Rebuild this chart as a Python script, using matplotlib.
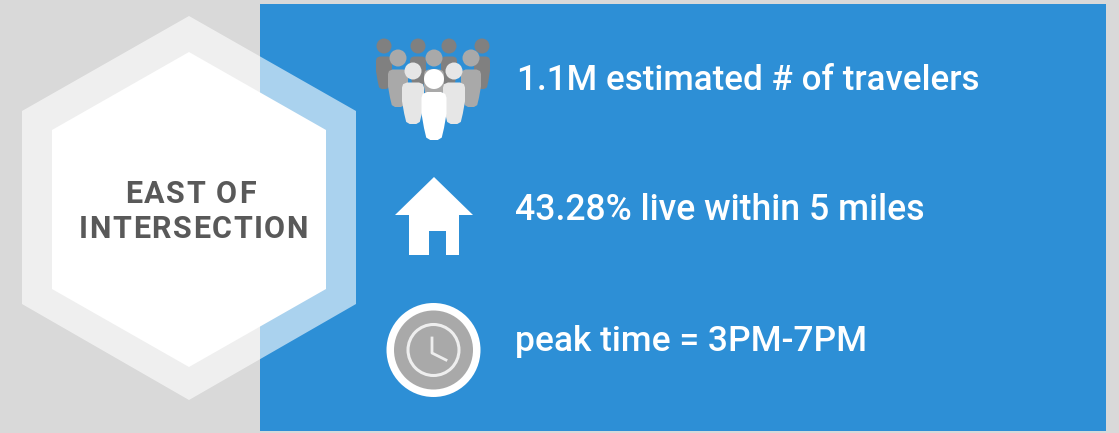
from __future__ import annotations

import matplotlib

matplotlib.use("Agg")
import matplotlib.pyplot as plt
from matplotlib.font_manager import FontProperties
from matplotlib.patches import Circle, Polygon, Rectangle
from matplotlib.textpath import TextToPath

TITLE_LINES = ["EAST OF", "INTERSECTION"]
FACTS = [
    "1.1M estimated # of travelers",
    "43.28% live within 5 miles",
    "peak time = 3PM-7PM",
]

BLUE = "#2d8fd6"
GREY_BG = "#d9d9d9"
TEXT_GREY = "#595959"
DPI = 100

# crowd rows, back to front: head x, head y, head radius, body half width, body bottom, colour
CROWD = [
    ([384, 418, 449, 482], 46, 7.5, 8, 89, "#808080"),
    ([398, 434, 471], 58, 8.5, 10, 107, "#a9a9a9"),
    ([413, 454], 71, 8.5, 11, 124, "#e6e6e6"),
    ([434], 79, 10, 12.5, 140, "#ffffff"),
]


def add_person(ax, x, head_y, radius, half_width, bottom, color):
    top = head_y + radius + 3
    height = bottom - top
    ax.add_patch(Circle((x, head_y), radius, color=color, lw=0, zorder=3))
    # right side outline, mirrored for the left
    side = [
        (0.55, 0.0),
        (0.9, 0.04),
        (1.0, 0.12),
        (1.0, 0.45),
        (0.8, 0.75),
        (0.62, 0.95),
        (0.3, 1.0),
    ]
    right = [(x + dx * half_width, top + dy * height) for dx, dy in side]
    left = [(x - dx * half_width, top + dy * height) for dx, dy in reversed(side)]
    ax.add_patch(Polygon(right + left, closed=True, color=color, lw=0, zorder=3))


def spaced_text(ax, center_x, y, text, size, tracking):
    # matplotlib has no letter spacing, so each letter goes down on its own
    prop = FontProperties(family="Roboto", weight="bold", size=size)
    measure = TextToPath()

    def advance(part):
        if not part:
            return 0.0
        return measure.get_text_width_height_descent(part, prop, False)[0] * DPI / 72

    total = advance(text) + tracking * (len(text) - 1)
    start = center_x - total / 2
    for i, char in enumerate(text):
        if char == " ":
            continue
        ax.text(start + advance(text[:i]) + tracking * i, y, char, ha="left",
                va="center_baseline", fontproperties=prop, color=TEXT_GREY, zorder=4)


def main() -> None:
    fig = plt.figure(figsize=(11.19, 4.33), dpi=DPI, facecolor=GREY_BG)
    ax = fig.add_axes([0, 0, 1, 1])
    ax.set_xlim(0, 1119)
    ax.set_ylim(433, 0)
    ax.axis("off")

    ax.add_patch(Rectangle((260, 4), 846, 427, color=BLUE, lw=0, zorder=1))

    outer = [(189, 16), (356, 111), (356, 304), (189, 400), (22, 304), (22, 111)]
    inner = [(189, 52), (326, 130), (326, 289), (189, 367), (52, 289), (52, 130)]
    ax.add_patch(Polygon(outer, closed=True, color="white", alpha=0.6, lw=0, zorder=2))
    ax.add_patch(Polygon(inner, closed=True, color="white", lw=0, zorder=2))

    spaced_text(ax, 190.5, 191, TITLE_LINES[0], 22, 1.5)
    spaced_text(ax, 193.5, 226, TITLE_LINES[1], 22, 1.5)

    for xs, head_y, radius, half_width, bottom, color in CROWD:
        for x in xs:
            add_person(ax, x, head_y, radius, half_width, bottom, color)

    # house
    ax.add_patch(Polygon([(434, 177), (473, 215), (459, 215), (459, 255), (446, 255),
                          (446, 231), (429, 231), (429, 255), (409, 255), (409, 215),
                          (395, 215)], closed=True, color="white", lw=0, zorder=3))

    # clock
    ax.add_patch(Circle((433.5, 350), 47, color="white", lw=0, zorder=3))
    ax.add_patch(Circle((433.5, 350), 39.5, color="#a9a9a9", lw=0, zorder=3))
    ax.add_patch(Circle((433.5, 350), 25.5, fill=False, ec="#eeeeee", lw=2.2, zorder=4))
    ax.plot([432, 432, 446], [338, 353, 360], color="#eeeeee", lw=2, zorder=4,
            solid_joinstyle="round")

    for text, x, y, size in zip(FACTS, [517, 515, 515], [80, 210, 342], [25.2, 25.7, 25.5]):
        ax.text(x, y, text, ha="left", va="center", fontsize=size, family="Roboto",
                weight="medium", color="white", zorder=4)

    fig.savefig("out.png", facecolor=fig.get_facecolor())
    plt.close(fig)


if __name__ == "__main__":
    main()
